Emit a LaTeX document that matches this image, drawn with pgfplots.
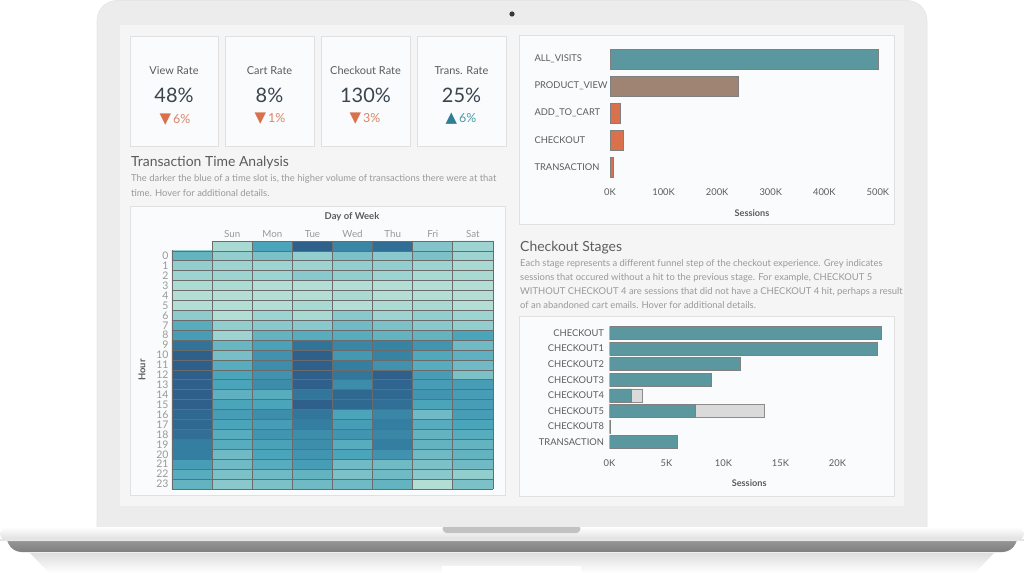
\documentclass[border=0pt]{standalone}
\usepackage{pgfplots}
\pgfplotsset{compat=1.18}
\usepackage{fontspec}
\setmainfont{Lato}
\newfontfamily\symfont{DejaVu Sans}

\definecolor{bezel}{HTML}{ECECEC}
\definecolor{screenbg}{HTML}{F5F5F5}
\definecolor{panel}{HTML}{FAFBFC}
\definecolor{panelline}{HTML}{E0E0E0}
\definecolor{txtdark}{HTML}{3A444E}
\definecolor{txtmid}{HTML}{5C5C5C}
\definecolor{txtlight}{HTML}{999999}
\definecolor{tealbar}{HTML}{5B979F}
\definecolor{taupe}{HTML}{A08473}
\definecolor{rust}{HTML}{D8714C}
\definecolor{rustlight}{HTML}{DB8466}
\definecolor{greyseg}{HTML}{DADADA}
\definecolor{upcol}{HTML}{2F7E95}
\definecolor{upcollight}{HTML}{4A9AAA}

\newcommand{\fs}[1]{\fontsize{#1}{#1}\selectfont}

\pgfplotsset{
  dash/.style={
    scale only axis, axis line style={draw=none}, major tick length=0pt,
    minor tick length=0pt, tick style={draw=none},
    ticklabel style={text=txtmid, font=\fs{9.4}},
    /pgf/number format/assume math mode=true,
  },
}

\begin{document}
\begin{tikzpicture}
\begin{scope}[x=1bp,y=-1bp]
  \path (0,0) rectangle (1024,573);
  % reflection of the base
  \shade[top color=black!13, bottom color=white] (30,553) -- (994,553) -- (975,573) -- (49,573) -- cycle;
  \fill[white] (442,566) rectangle (581,573);
  % lid and screen
  \filldraw[fill=bezel, draw=black!10, line width=0.6bp, rounded corners=20bp]
    (97,534) -- (97,0.5) -- (927,0.5) -- (927,534);
  \fill[screenbg] (120,25) rectangle (904,506);
  \fill[black!78] (512,14) circle[radius=2.6bp];
  % base
  \shade[top color=black!36, bottom color=black!50, rounded corners=9bp]
    (4,533) -- (1020,533) -- (1012,552) -- (12,552) -- cycle;
  \shade[top color=white, bottom color=black!14, rounded corners=8bp]
    (0,527) -- (1024,527) -- (1024,541) -- (0,541) -- cycle;
  \fill[black!10] (0,539) rectangle (1024,541);
  \fill[black!24, rounded corners=2bp] (442,527) -- (581,527) -- (579,533) -- (444,533) -- cycle;

  % panels
  \foreach \a/\b in {130/218, 225/314, 321/410, 417/506}
    \filldraw[fill=panel, draw=panelline, line width=0.8bp] (\a,36) rectangle (\b,146);
  \filldraw[fill=panel, draw=panelline, line width=0.8bp] (130,206) rectangle (505,495);
  \filldraw[fill=panel, draw=panelline, line width=0.8bp] (519,35) rectangle (894,224);
  \filldraw[fill=panel, draw=panelline, line width=0.8bp] (519,316) rectangle (894,496);

  % rate cards
  \foreach \x/\t/\v in {174/View Rate/48\%, 269.5/Cart Rate/8\%, 365.5/Checkout Rate/130\%, 461.5/Trans. Rate/25\%}{
    \node[font=\fs{11}, text=txtmid] at (\x,71) {\t};
    \node[font=\fs{20}, text=txtdark] at (\x,95.5) {\v};
  }
  \node[font=\fs{12.5}, text=rustlight] at (175,120) {{\symfont\fs{15}\color{rust}▼}\,6\%};
  \node[font=\fs{12.5}, text=rustlight] at (270,119) {{\symfont\fs{15}\color{rust}▼}\,1\%};
  \node[font=\fs{12.5}, text=rustlight] at (365,119) {{\symfont\fs{15}\color{rust}▼}\,3\%};
  \node[font=\fs{12.5}, text=upcollight] at (461,119) {{\symfont\fs{15}\color{upcol}▲}\,6\%};

  % section titles and notes
  \node[anchor=west, font=\fs{14}, text=txtmid, inner sep=0] at (131,163) {Transaction Time Analysis};
  \node[anchor=west, font=\fs{9.45}, text=txtlight, inner sep=0] at (131,179) {The darker the blue of a time slot is, the higher volume of transactions there were at that};
  \node[anchor=west, font=\fs{9.45}, text=txtlight, inner sep=0] at (131,193) {time. Hover for additional details.};
  \node[anchor=west, font=\fs{14}, text=txtmid, inner sep=0] at (520,248) {Checkout Stages};
  \node[anchor=west, font=\fs{9.45}, text=txtlight, inner sep=0] at (520,264) {Each stage represents a different funnel step of the checkout experience. Grey indicates};
  \node[anchor=west, font=\fs{9.45}, text=txtlight, inner sep=0] at (520,278) {sessions that occured without a hit to the previous stage. For example, CHECKOUT 5};
  \node[anchor=west, font=\fs{9.45}, text=txtlight, inner sep=0] at (520,291.5) {WITHOUT CHECKOUT 4 are sessions that did not have a CHECKOUT 4 hit, perhaps a result};
  \node[anchor=west, font=\fs{9.45}, text=txtlight, inner sep=0] at (520,305) {of an abandoned cart emails. Hover for additional details.};

  % heatmap axis titles
  \node[font=\bfseries\fs{9.5}, text=txtmid] at (352,217) {Day of Week};
  \node[font=\bfseries\fs{9.5}, text=txtmid, rotate=90] at (142,370) {Hour};
\end{scope}

% funnel
\begin{axis}[dash,
  at={(610bp,-45.5bp)}, anchor=north west,
  width=284bp, height=135bp,
  xbar, bar width=20bp, bar shift=0pt,
  xmin=0, xmax=530000, ymin=-0.5, ymax=4.5, y dir=reverse,
  scaled x ticks=false,
  ytick={0,...,4},
  yticklabels={ALL\_VISITS, PRODUCT\_VIEW, ADD\_TO\_CART, CHECKOUT, TRANSACTION},
  yticklabel style={anchor=west, xshift=-79bp},
  xtick={0,100000,200000,300000,400000,500000},
  xticklabels={0K,100K,200K,300K,400K,500K},
  xticklabel style={yshift=-4.5bp},
  xlabel={Sessions},
  xlabel style={at={(axis description cs:0.5,0)}, anchor=center, yshift=-32.5bp,
    font=\bfseries\fs{9.2}, text=txtmid},
]
\addplot[fill=tealbar, draw=black!50, line width=0.5bp] coordinates {(500000,0)};
\addplot[fill=taupe, draw=black!50, line width=0.5bp] coordinates {(240000,1)};
\addplot[fill=rust, draw=black!50, line width=0.5bp] coordinates {(18500,2) (24000,3) (6000,4)};
\end{axis}

% checkout stages
\begin{axis}[dash,
  at={(609.5bp,-325.2bp)}, anchor=north west,
  width=279.3bp, height=124.8bp,
  xbar, bar width=13bp, bar shift=0pt,
  xmin=0, xmax=24500, ymin=-0.5, ymax=7.5, y dir=reverse,
  scaled x ticks=false,
  ytick={0,...,7},
  yticklabels={CHECKOUT, CHECKOUT1, CHECKOUT2, CHECKOUT3, CHECKOUT4, CHECKOUT5, CHECKOUT8, TRANSACTION},
  yticklabel style={xshift=-2bp},
  xtick={0,5000,10000,15000,20000},
  xticklabels={0K,5K,10K,15K,20K},
  xticklabel style={yshift=-6.5bp},
  xlabel={Sessions},
  xlabel style={at={(axis description cs:0.5,0)}, anchor=center, yshift=-33bp,
    font=\bfseries\fs{9.2}, text=txtmid},
]
% sessions without a hit to the previous stage (total length)
\addplot[fill=greyseg, draw=black!45, line width=0.5bp] coordinates {(2900,4) (13600,5)};
\addplot[fill=tealbar, draw=black!50, line width=0.5bp] coordinates
  {(23800,0) (23500,1) (11500,2) (8900,3) (1900,4) (7500,5) (100,6) (5900,7)};
\end{axis}

% transactions by hour and weekday; column -1 and row -1 hold the totals
\begin{axis}[dash,
  at={(172bp,-241bp)}, anchor=north west,
  width=321bp, height=248bp,
  xmin=-1.5, xmax=6.5, ymin=-1.5, ymax=23.5, y dir=reverse,
  clip=false, axis on top,
  colormap={bluteal}{rgb255=(188,228,216) rgb255=(137,200,204) rgb255=(75,165,186) rgb255=(52,126,161) rgb255=(44,89,133)},
  point meta min=0, point meta max=100,
  xtick={0,...,6}, xticklabels={Sun,Mon,Tue,Wed,Thu,Fri,Sat},
  xticklabel pos=upper,
  xticklabel style={font=\fs{9.8}, text=txtlight},
  ytick={0,...,23},
  yticklabel style={font=\fs{10.5}, text=txtlight},
  minor xtick={-1.5,-0.5,...,6.5},
  minor ytick={-1.5,-0.5,...,23.5},
  xminorgrids, yminorgrids,
  minor grid style={draw=black!58, line width=0.8bp},
]
\addplot[matrix plot*, mesh/cols=8, point meta=explicit] coordinates {
(-1,-1) [0]  (0,-1) [10] (1,-1) [50] (2,-1) [95] (3,-1) [70] (4,-1) [86] (5,-1) [28] (6,-1) [15]
(-1,0) [40]  (0,0) [20]  (1,0) [30]  (2,0) [20]  (3,0) [30]  (4,0) [25]  (5,0) [30]  (6,0) [15]
(-1,1) [20]  (0,1) [15]  (1,1) [15]  (2,1) [15]  (3,1) [20]  (4,1) [20]  (5,1) [15]  (6,1) [10]
(-1,2) [15]  (0,2) [15]  (1,2) [15]  (2,2) [25]  (3,2) [20]  (4,2) [15]  (5,2) [10]  (6,2) [10]
(-1,3) [8]   (0,3) [8]   (1,3) [5]   (2,3) [5]   (3,3) [5]   (4,3) [5]   (5,3) [5]   (6,3) [5]
(-1,4) [5]   (0,4) [5]   (1,4) [5]   (2,4) [5]   (3,4) [10]  (4,4) [5]   (5,4) [5]   (6,4) [5]
(-1,5) [5]   (0,5) [5]   (1,5) [5]   (2,5) [10]  (3,5) [5]   (4,5) [8]   (5,5) [10]  (6,5) [5]
(-1,6) [22]  (0,6) [5]   (1,6) [15]  (2,6) [10]  (3,6) [25]  (4,6) [15]  (5,6) [20]  (6,6) [15]
(-1,7) [45]  (0,7) [20]  (1,7) [25]  (2,7) [25]  (3,7) [35]  (4,7) [30]  (5,7) [25]  (6,7) [20]
(-1,8) [55]  (0,8) [15]  (1,8) [40]  (2,8) [45]  (3,8) [45]  (4,8) [40]  (5,8) [40]  (6,8) [50]
(-1,9) [82]  (0,9) [38]  (1,9) [52]  (2,9) [82]  (3,9) [70]  (4,9) [72]  (5,9) [60]  (6,9) [35]
(-1,10) [95] (0,10) [32] (1,10) [62] (2,10) [95] (3,10) [58] (4,10) [72] (5,10) [48] (6,10) [42]
(-1,11) [96] (0,11) [45] (1,11) [65] (2,11) [95] (3,11) [75] (4,11) [62] (5,11) [45] (6,11) [35]
(-1,12) [96] (0,12) [50] (1,12) [62] (2,12) [95] (3,12) [80] (4,12) [95] (5,12) [55] (6,12) [30]
(-1,13) [95] (0,13) [50] (1,13) [66] (2,13) [95] (3,13) [66] (4,13) [92] (5,13) [55] (6,13) [55]
(-1,14) [96] (0,14) [42] (1,14) [45] (2,14) [80] (3,14) [90] (4,14) [90] (5,14) [60] (6,14) [55]
(-1,15) [95] (0,15) [50] (1,15) [50] (2,15) [95] (3,15) [90] (4,15) [85] (5,15) [50] (6,15) [55]
(-1,16) [90] (0,16) [55] (1,16) [65] (2,16) [80] (3,16) [50] (4,16) [70] (5,16) [35] (6,16) [55]
(-1,17) [90] (0,17) [50] (1,17) [55] (2,17) [75] (3,17) [55] (4,17) [75] (5,17) [45] (6,17) [50]
(-1,18) [85] (0,18) [45] (1,18) [60] (2,18) [65] (3,18) [60] (4,18) [70] (5,18) [40] (6,18) [45]
(-1,19) [75] (0,19) [45] (1,19) [52] (2,19) [65] (3,19) [45] (4,19) [75] (5,19) [40] (6,19) [40]
(-1,20) [75] (0,20) [35] (1,20) [50] (2,20) [60] (3,20) [50] (4,20) [62] (5,20) [35] (6,20) [40]
(-1,21) [55] (0,21) [35] (1,21) [45] (2,21) [55] (3,21) [35] (4,21) [35] (5,21) [30] (6,21) [35]
(-1,22) [45] (0,22) [30] (1,22) [35] (2,22) [40] (3,22) [30] (4,22) [35] (5,22) [25] (6,22) [20]
(-1,23) [40] (0,23) [25] (1,23) [30] (2,23) [35] (3,23) [35] (4,23) [40] (5,23) [5]  (6,23) [30]
};
\end{axis}

% the corner cell above the hour totals stays empty
\begin{scope}[x=1bp,y=-1bp]
  \fill[panel] (170.5,239.5) rectangle (211.7,250.5);
\end{scope}
\end{tikzpicture}
\end{document}
